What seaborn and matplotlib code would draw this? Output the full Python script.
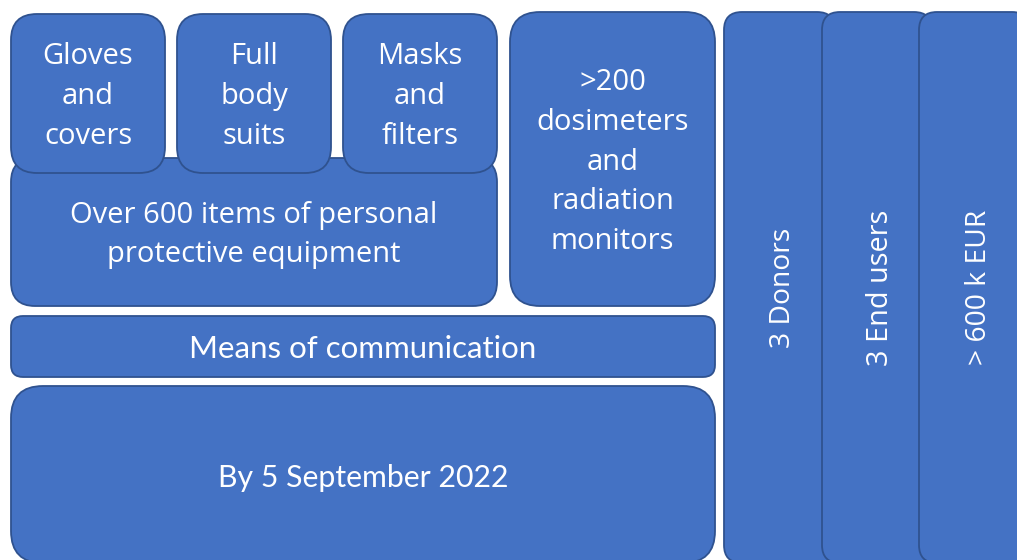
import matplotlib
matplotlib.use("Agg")
import matplotlib.pyplot as plt
from matplotlib.patches import FancyBboxPatch
import seaborn as sns

# box texts
labels = ["Over 600 items of personal\nprotective equipment",
          "Gloves\nand\ncovers", "Full\nbody\nsuits", "Masks\nand\nfilters",
          ">200\ndosimeters\nand\nradiation\nmonitors",
          "Means of communication", "By 5 September 2022",
          "3 Donors", "3 End users", "> 600 k EUR"]

# geometry in pixels: left, top, right, bottom
lefts = [11, 11, 177, 343, 510, 11, 11, 724, 822, 919]
tops = [158, 14, 14, 14, 12, 316, 386, 12, 12, 12]
rights = [497, 165, 331, 497, 715, 715, 715, 835, 932, 1030]
bottoms = [306, 173, 173, 173, 306, 377, 563, 563, 563, 563]
radii = [24, 26, 26, 26, 30, 12, 32, 18, 18, 18]
rotations = [0, 0, 0, 0, 0, 0, 0, 90, 90, 90]
fonts = ["Open Sans"] * 5 + ["Lato", "Lato"] + ["Open Sans"] * 3
sizes = [21, 21, 21, 21, 21, 22.5, 21.8, 20.3, 20.8, 20.3]

sns.set_theme(style="white")
plt.rcParams['font.family'] = ['Open Sans', 'DejaVu Sans']

fill = "#4472C4"
edge = "#2F528F"

fig = plt.figure(figsize=(10.17, 5.6), dpi=100)
ax = fig.add_axes([0, 0, 1, 1])
ax.set_xlim(0, 1017)
ax.set_ylim(560, 0)
ax.axis("off")

for lab, l, t, r, b, rad, rot, fnt, sz in zip(labels, lefts, tops, rights, bottoms,
                                             radii, rotations, fonts, sizes):
    box = FancyBboxPatch((l, t), r - l, b - t,
                         boxstyle="round,pad=0,rounding_size=%d" % rad,
                         facecolor=fill, edgecolor=edge, linewidth=1.3)
    ax.add_patch(box)
    cx = (l + min(r, 1017)) / 2
    cy = (t + b) / 2
    if rot:
        cx = cx + 4 if r < 1017 else cx + 11
    else:
        cy += 3
    ax.text(cx, cy, lab, ha="center", va="center", color="white", rotation=rot,
            fontsize=sz, family=fnt, linespacing=1.48)

fig.savefig("out.png", dpi=100)
